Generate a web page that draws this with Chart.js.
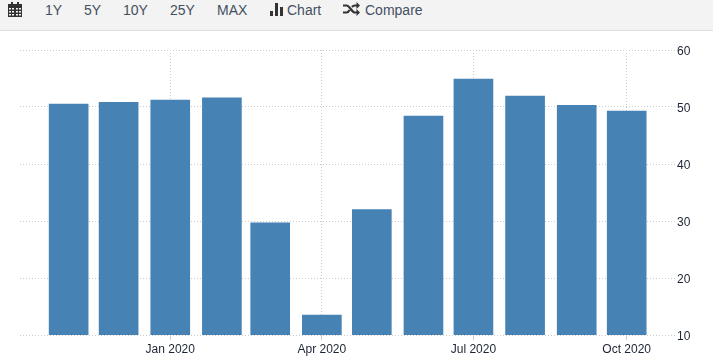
<!DOCTYPE html>
<html>
<head>
<meta charset="utf-8">
<style>
html,body{margin:0;padding:0;background:#fff;overflow:hidden}
#wrap{position:relative;width:713px;height:364px}
#bar{position:absolute;left:0;top:0;width:713px;height:30px;background:#f3f3f3;border-bottom:1px solid #ddd;z-index:2}
#bar span{position:absolute;top:1px;font:14px/18px "Liberation Sans",Arial,sans-serif;color:#44505f;white-space:nowrap}
#bar svg{position:absolute}
canvas{position:absolute;left:0;top:0}
</style>
<script src="https://cdn.jsdelivr.net/npm/chart.js@4"></script>
</head>
<body>
<div id="wrap">
<div id="bar">
<svg style="left:8px;top:2px" width="14" height="15" viewBox="0 0 14 15"><path fill="#333" d="M0 2h3V0h2v2h4V0h2v2h3v13H0z"/><g fill="#f3f3f3"><rect x="1" y="6" width="2" height="1.5"/><rect x="4" y="6" width="2" height="1.5"/><rect x="8" y="6" width="2" height="1.5"/><rect x="11" y="6" width="2" height="1.5"/><rect x="1" y="9" width="2" height="1.5"/><rect x="4" y="9" width="2" height="1.5"/><rect x="8" y="9" width="2" height="1.5"/><rect x="11" y="9" width="2" height="1.5"/><rect x="1" y="12" width="2" height="1.5"/><rect x="4" y="12" width="2" height="1.5"/><rect x="8" y="12" width="2" height="1.5"/><rect x="11" y="12" width="2" height="1.5"/></g></svg>
<span style="left:45px">1Y</span>
<span style="left:84px">5Y</span>
<span style="left:123px">10Y</span>
<span style="left:170px">25Y</span>
<span style="left:217px">MAX</span>
<svg style="left:270px;top:3px" width="13" height="13" viewBox="0 0 13 13"><path fill="#333" d="M0 8h3v5H0zM5 0h3v13H5zM10 4h3v9h-3z"/></svg>
<span style="left:287px">Chart</span>
<svg style="left:343px;top:2px" width="17" height="14" viewBox="0 0 17 14"><path fill="none" stroke="#333" stroke-width="2.2" d="M0 3.5h3.5c3.5 0 5 7 8.500 7h2M0 10.500h3.500c1.500 0 2.500-1.500 3-2.500M9 5c.7-.9 1.700-1.500 3-1.500h2"/><path fill="#333" d="M13.500 0l3.500 3.500-3.500 3.500zM13.500 7l3.500 3.500-3.500 3.500z"/></svg>
<span style="left:365px">Compare</span>
</div>
<canvas id="c" width="713" height="364"></canvas>
</div>
<script>
const dayOffsets = [0, 30, 61, 92, 121, 152, 182, 213, 243, 274, 305, 335];
const values = [50.5, 50.8, 51.2, 51.6, 29.7, 13.5, 32, 48.4, 54.9, 51.9, 50.3, 49.3];
const xTickDays = [61, 152, 243, 335];
const xTickLabels = ['Jan 2020', 'Apr 2020', 'Jul 2020', 'Oct 2020'];
const yTicks = [10, 20, 30, 40, 50, 60];

new Chart(document.getElementById('c'), {
  type: 'bar',
  data: {
    datasets: [{
      data: dayOffsets.map((d, i) => ({ x: d, y: values[i] })),
      backgroundColor: '#4682b4',
      borderWidth: 0,
      barThickness: 39
    }]
  },
  options: {
    responsive: false,
    animation: false,
    events: [],
    layout: { padding: { left: 20, right: 0, top: 50, bottom: 0 } },
    plugins: { legend: { display: false }, tooltip: { enabled: false } },
    scales: {
      x: {
        type: 'linear',
        offset: false,
        min: -29.2,
        max: 364,
        afterBuildTicks: s => { s.ticks = xTickDays.map(v => ({ value: v })); },
        afterFit: s => { s.height = 29; },
        ticks: {
          autoSkip: false, maxRotation: 0, padding: 2,
          color: '#1c2533',
          font: { family: '"Liberation Sans", Arial, sans-serif', size: 12 },
          callback: v => xTickLabels[xTickDays.indexOf(v)]
        },
        grid: { offset: false, color: '#cccccc', tickLength: 5, tickColor: '#cccccc', drawTicks: true },
        border: { display: false, dash: [1, 2] }
      },
      y: {
        position: 'right',
        min: 10,
        max: 60,
        afterBuildTicks: s => { s.ticks = yTicks.map(v => ({ value: v })); },
        afterFit: s => { s.width = 38; },
        ticks: {
          padding: 2,
          labelOffset: 2,
          color: '#1c2533',
          font: { family: '"Liberation Sans", Arial, sans-serif', size: 12 },
          callback: v => String(v)
        },
        grid: { color: '#cccccc', drawTicks: false },
        border: { display: false, dash: [1, 2] }
      }
    }
  }
});
</script>
</body>
</html>
